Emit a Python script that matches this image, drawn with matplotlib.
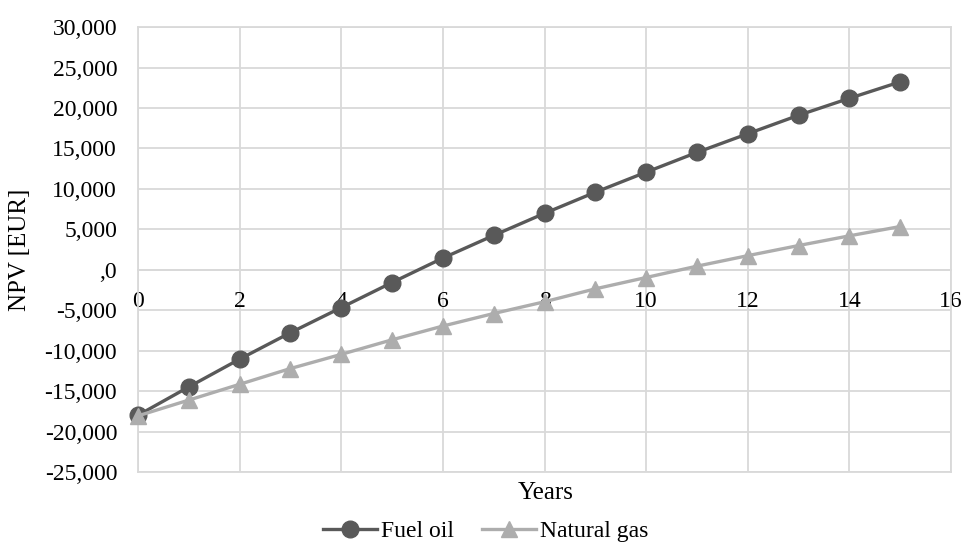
import matplotlib
matplotlib.use("Agg")
import matplotlib.pyplot as plt
from matplotlib.ticker import FuncFormatter, MultipleLocator

years = list(range(16))
fuel_oil = [-17980, -14470, -11040, -7770, -4670, -1570, 1450, 4250, 6980, 9590,
            12070, 14510, 16820, 19100, 21200, 23230]
natural_gas = [-18050, -16100, -14150, -12200, -10450, -8650, -6950, -5400, -3950, -2350,
               -950, 450, 1750, 3000, 4200, 5350]
series_names = ["Fuel oil", "Natural gas"]

plt.rcParams['font.family'] = ['Liberation Serif', 'DejaVu Serif']
plt.rcParams['font.size'] = 17

fig = plt.figure(figsize=(9.65, 5.42), dpi=100)
ax = fig.add_axes([0.143, 0.129, 0.8425, 0.821])

grid_c = '#D9D9D9'
ax.plot(years, fuel_oil, color='#595959', lw=2.4, marker='o', ms=12, label=series_names[0], zorder=3, clip_on=False)
ax.plot(years, natural_gas, color='#ADADAD', lw=2.4, marker='^', ms=12, label=series_names[1], zorder=3, clip_on=False)

ax.set_xlim(0, 16)
ax.set_ylim(-25000, 30000)
ax.xaxis.set_major_locator(MultipleLocator(2))
ax.yaxis.set_major_locator(MultipleLocator(5000))

def yfmt(v, pos):
    if abs(v) < 1e-9:
        return ',0'
    return '{:,.0f}'.format(v)
ax.yaxis.set_major_formatter(FuncFormatter(yfmt))

ax.grid(True, color=grid_c, lw=1.3, zorder=0)
ax.set_axisbelow(True)
for s in ['top', 'right', 'left']:
    ax.spines[s].set_color(grid_c)
    ax.spines[s].set_linewidth(1.3)
ax.spines['bottom'].set_position(('data', 0))
ax.spines['bottom'].set_color(grid_c)
ax.spines['bottom'].set_linewidth(1.3)
ax.axhline(-25000, color=grid_c, lw=1.3, zorder=0, clip_on=False)

ax.tick_params(axis='both', length=0, labelsize=17, colors='black')
ax.tick_params(axis='x', pad=15)
ax.tick_params(axis='y', pad=15)

fig.text(0.021, 0.539, 'NPV [EUR]', rotation=90, ha='center', va='center', fontsize=18)
fig.text(0.565, 0.0904, 'Years', ha='center', va='center', fontsize=18)

leg = fig.legend(loc='center', bbox_to_anchor=(0.503, 0.02), ncol=2, frameon=False,
                 fontsize=17, handlelength=2.3, columnspacing=1.2, handletextpad=0.15,
                 borderaxespad=0, borderpad=0)

fig.savefig('out.png', dpi=100)
